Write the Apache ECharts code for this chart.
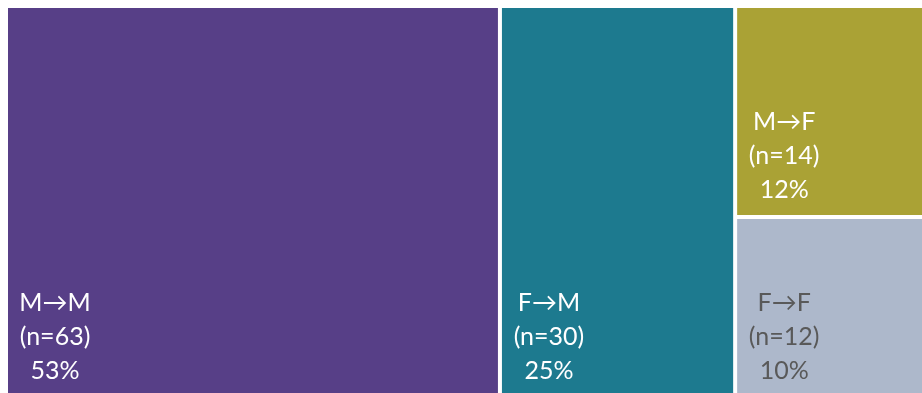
<!DOCTYPE html>
<html lang="en">
<head>
    <meta charset="UTF-8">
    <title>Treemap</title>
    <script src="https://cdn.jsdelivr.net/npm/echarts@6/dist/echarts.min.js"></script>
    <style>
        html, body { margin: 0; padding: 0; background: #fff; }
        #main { width: 922px; height: 393px; }
    </style>
</head>
<body>
<div id="main"></div>
<script>
    var names = ['M\u2192M', 'F\u2192M', 'M\u2192F', 'F\u2192F'];
    var counts = [63, 30, 14, 12];
    var pcts = ['53%', '25%', '12%', '10%'];
    var colors = ['#573F87', '#1D7A8F', '#AAA235', '#ADB8CB'];
    var textColors = ['#ffffff', '#ffffff', '#ffffff', '#595959'];

    var LINE_H = 34;
    var BLOCK_W = 74;

    var myChart = echarts.init(document.getElementById('main'));

    function buildData(pads) {
        return names.map(function (n, i) {
            var lbl = {color: textColors[i]};
            if (pads && pads[n]) lbl.padding = pads[n];
            return {
                name: n,
                value: counts[i],
                itemStyle: {color: colors[i]},
                label: lbl
            };
        });
    }

    myChart.setOption({
        animation: false,
        series: [{
            type: 'treemap',
            left: 8,
            top: 8,
            width: 929,
            height: 388,
            roam: false,
            nodeClick: false,
            breadcrumb: {show: false},
            squareRatio: 1,
            label: {
                show: true,
                position: 'insideTopLeft',
                distance: 0,
                fontFamily: 'Lato',
                fontSize: 25,
                lineHeight: LINE_H,
                formatter: function (p) {
                    var i = names.indexOf(p.name);
                    return '{a|' + p.name + '}\n{a|(n=' + p.value + ')}\n{a|' + pcts[i] + '}';
                },
                rich: {
                    a: {align: 'center', fontFamily: 'Lato', fontSize: 25, lineHeight: LINE_H}
                }
            },
            levels: [{
                itemStyle: {gapWidth: 4, borderWidth: 0, borderColor: '#fff'}
            }],
            data: buildData(null)
        }]
    });

    // push each label block to the bottom-left of its own cell
    var sData = myChart.getModel().getSeriesByIndex(0).getData();
    var pads = {};
    for (var k = 0; k < sData.count(); k++) {
        var nm = sData.getName(k);
        if (names.indexOf(nm) < 0) continue;
        var lay = sData.getItemLayout(k);
        if (!lay) continue;
        var w = lay.width, h = lay.height;
        pads[nm] = [Math.max(h - 3 * LINE_H - 8, 0), Math.max(w - BLOCK_W - 10, 0), 0, 10];
    }
    myChart.setOption({series: [{data: buildData(pads)}]});
</script>
</body>
</html>
